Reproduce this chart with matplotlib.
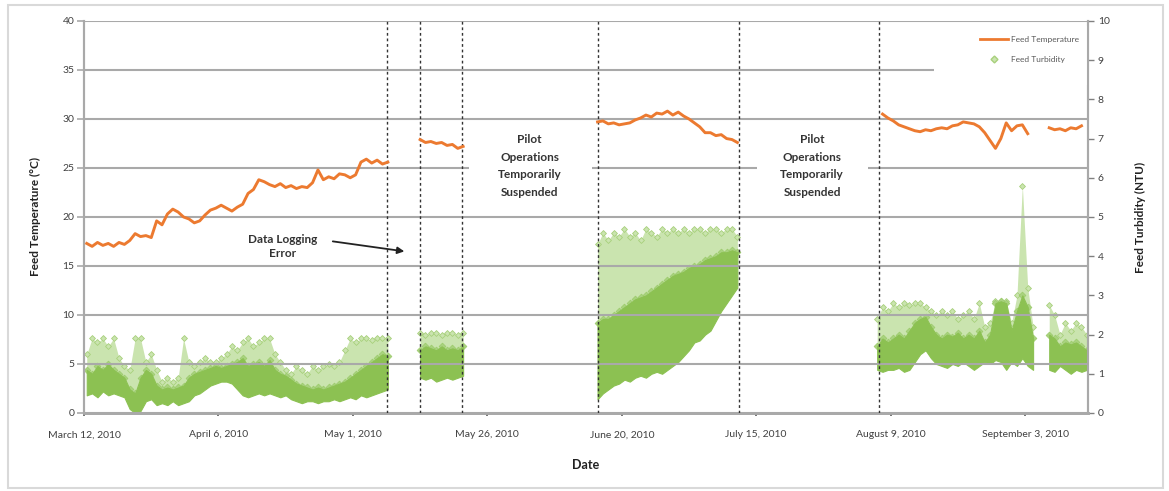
import numpy as np
import pandas as pd
import matplotlib
matplotlib.use('Agg')
import matplotlib.pyplot as plt
import matplotlib.dates as mdates
from matplotlib.lines import Line2D
from matplotlib.patches import Rectangle

plt.rcParams['font.family'] = ['Lato', 'DejaVu Sans']

# feed temperature (deg C), one reading per day, per logging run
temp_starts = ['2010-03-12', '2010-05-13', '2010-06-15', '2010-08-07', '2010-09-07']
temp_runs = [
    [17.3, 17.0, 17.4, 17.1, 17.3, 17.0, 17.4, 17.2, 17.6, 18.3, 18.0, 18.1, 17.9, 19.6,
     19.2, 20.3, 20.8, 20.5, 20.0, 19.8, 19.4, 19.6, 20.2, 20.7, 20.9, 21.2, 20.9, 20.6,
     21.0, 21.3, 22.4, 22.8, 23.8, 23.6, 23.3, 23.1, 23.4, 23.0, 23.2, 22.9, 23.1, 23.0,
     23.5, 24.8, 23.8, 24.1, 23.9, 24.4, 24.3, 24.0, 24.3, 25.6, 25.9, 25.5, 25.8, 25.4, 25.6],
    [27.9, 27.6, 27.7, 27.5, 27.6, 27.3, 27.4, 27.0, 27.2],
    [29.7, 29.8, 29.5, 29.6, 29.4, 29.5, 29.6, 29.9, 30.1, 30.4, 30.2, 30.6, 30.5, 30.8,
     30.4, 30.7, 30.3, 30.0, 29.6, 29.2, 28.6, 28.6, 28.3, 28.4, 28.0, 27.9, 27.6],
    [30.5, 30.1, 29.8, 29.4, 29.2, 29.0, 28.8, 28.7, 28.9, 28.8, 29.0, 29.1, 29.0, 29.3,
     29.4, 29.7, 29.6, 29.5, 29.2, 28.6, 27.8, 27.0, 28.0, 29.6, 28.8, 29.3, 29.4, 28.5],
    [29.1, 28.9, 29.0, 28.8, 29.1, 29.0, 29.3],
]

# feed turbidity (NTU): daily low / high of the bulk of readings, and the highest readings
turb_starts = ['2010-03-12', '2010-05-13', '2010-06-15', '2010-08-06', '2010-09-07']
turb_low = [
    [0.45, 0.5, 0.4, 0.55, 0.45, 0.5, 0.45, 0.4, 0.1, 0.0, 0.05, 0.3, 0.35, 0.2, 0.25, 0.2,
     0.3, 0.2, 0.25, 0.3, 0.45, 0.5, 0.6, 0.7, 0.75, 0.8, 0.8, 0.75, 0.6, 0.45, 0.4, 0.45,
     0.5, 0.45, 0.5, 0.45, 0.4, 0.45, 0.35, 0.3, 0.25, 0.3, 0.3, 0.25, 0.3, 0.3, 0.35, 0.3,
     0.35, 0.4, 0.35, 0.45, 0.4, 0.45, 0.5, 0.55, 0.6],
    [0.9, 0.85, 0.9, 0.8, 0.85, 0.9, 0.85, 0.9, 0.95],
    [0.35, 0.5, 0.6, 0.7, 0.75, 0.85, 0.8, 0.9, 0.95, 0.9, 1.0, 1.05, 1.0, 1.1, 1.2, 1.3,
     1.45, 1.6, 1.8, 1.85, 2.0, 2.1, 2.35, 2.6, 2.8, 3.0, 3.2],
    [1.1, 1.05, 1.1, 1.1, 1.15, 1.05, 1.1, 1.3, 1.5, 1.6, 1.4, 1.25, 1.2, 1.15, 1.25, 1.2,
     1.3, 1.2, 1.1, 1.2, 1.3, 1.25, 1.35, 1.3, 1.1, 1.3, 1.2, 1.4, 1.2, 1.1],
    [1.1, 1.05, 1.2, 1.1, 1.0, 1.1, 1.05, 1.1],
]
turb_high = [
    [1.1, 1.0, 1.2, 1.1, 1.25, 1.1, 1.0, 0.9, 0.6, 0.5, 0.9, 1.1, 1.0, 0.7, 0.6, 0.65, 0.6,
     0.65, 0.7, 0.9, 1.0, 1.05, 1.1, 1.15, 1.2, 1.15, 1.2, 1.25, 1.3, 1.4, 1.2, 1.25, 1.3,
     1.2, 1.35, 1.1, 1.0, 0.95, 0.85, 0.75, 0.7, 0.65, 0.6, 0.65, 0.6, 0.65, 0.7, 0.75, 0.8,
     0.9, 1.0, 1.1, 1.2, 1.3, 1.4, 1.5, 1.45],
    [1.6, 1.7, 1.65, 1.6, 1.7, 1.6, 1.65, 1.6, 1.7],
    [2.3, 2.4, 2.4, 2.5, 2.6, 2.7, 2.8, 2.9, 2.95, 3.0, 3.1, 3.2, 3.3, 3.4, 3.5, 3.55, 3.6,
     3.7, 3.75, 3.8, 3.9, 3.95, 4.0, 4.1, 4.1, 4.15, 4.1],
    [1.7, 1.9, 1.8, 1.9, 2.0, 1.9, 2.1, 2.3, 2.4, 2.45, 2.2, 2.0, 1.9, 2.0, 1.95, 2.05, 1.9,
     2.0, 1.9, 2.1, 1.8, 2.0, 2.8, 2.85, 2.8, 2.1, 2.6, 3.0, 2.7, 1.9],
    [2.0, 1.9, 1.7, 1.8, 1.75, 1.8, 1.7, 1.6],
]
turb_peak = [
    [1.5, 1.9, 1.8, 1.9, 1.7, 1.9, 1.4, 1.2, 1.1, 1.9, 1.9, 1.3, 1.5, 1.1, 0.8, 0.9, 0.8,
     0.9, 1.9, 1.3, 1.2, 1.3, 1.4, 1.3, 1.3, 1.4, 1.5, 1.7, 1.6, 1.8, 1.9, 1.7, 1.8, 1.9,
     1.9, 1.5, 1.3, 1.1, 1.0, 1.2, 1.1, 1.0, 1.2, 1.1, 1.2, 1.25, 1.2, 1.3, 1.6, 1.9, 1.8,
     1.9, 1.9, 1.85, 1.9, 1.9, 1.9],
    [2.05, 2.0, 2.05, 2.05, 2.0, 2.05, 2.05, 2.0, 2.05],
    [4.3, 4.6, 4.4, 4.6, 4.5, 4.7, 4.5, 4.6, 4.4, 4.7, 4.6, 4.5, 4.7, 4.6, 4.7, 4.6, 4.7,
     4.6, 4.7, 4.7, 4.6, 4.7, 4.7, 4.6, 4.7, 4.7, 4.5],
    [2.4, 2.7, 2.6, 2.8, 2.7, 2.8, 2.75, 2.8, 2.8, 2.7, 2.6, 2.5, 2.6, 2.5, 2.6, 2.4, 2.5,
     2.6, 2.4, 2.8, 2.2, 2.3, 2.85, 2.85, 2.85, 2.3, 3.0, 5.8, 3.2, 2.2],
    [2.75, 2.5, 2.0, 2.3, 2.1, 2.3, 2.2, 2.0],
]

# operational breaks marked on the chart
break_dates = ['2010-05-07 10:00', '2010-05-13 12:00', '2010-05-21 07:00',
               '2010-06-15 14:00', '2010-07-11 19:00', '2010-08-06 22:00']
tick_dates = ['2010-03-12', '2010-04-06', '2010-05-01', '2010-05-26',
              '2010-06-20', '2010-07-15', '2010-08-09', '2010-09-03']
tick_labels = ['March 12, 2010', 'April 6, 2010', 'May 1, 2010', 'May 26, 2010',
               'June 20, 2010', 'July 15, 2010', 'August 9, 2010', 'September 3, 2010']

ORANGE = '#EC7A30'
GREEN = '#8CC152'
LIGHT_GREEN = '#CAE4AF'
GRID = '#A9A9A9'
TEXT = '#404040'

fig = plt.figure(figsize=(11.69, 4.91), dpi=100)
fig.patches.append(Rectangle((0.0068, 0.006), 0.988, 0.984, transform=fig.transFigure,
                             fill=False, edgecolor='#D9D9D9', linewidth=1.5))
ax = fig.add_axes([0.0719, 0.1589, 0.8588, 0.7984])
ax2 = ax.twinx()

# turbidity on the secondary axis, drawn underneath
for start, lo, hi, pk in zip(turb_starts, turb_low, turb_high, turb_peak):
    d = pd.date_range(start, periods=len(lo), freq='D') + pd.Timedelta(hours=12)
    ax2.fill_between(d, hi, pk, color=LIGHT_GREEN, linewidth=0, zorder=2)
    ax2.scatter(d, pk, marker='D', s=9, color=LIGHT_GREEN, edgecolors='#A8D07C',
                linewidths=0.6, zorder=2)
    ax2.scatter(d, hi, marker='D', s=12, color='#A9D27F', edgecolors='#9BCB6A',
                linewidths=0.5, zorder=2)
    ax2.fill_between(d, lo, hi, color=GREEN, linewidth=0.8, edgecolor=GREEN, zorder=3)

# feed temperature on the primary axis
ax.set_zorder(ax2.get_zorder() + 1)
ax.patch.set_visible(False)
for start, vals in zip(temp_starts, temp_runs):
    d = pd.date_range(start, periods=len(vals), freq='D') + pd.Timedelta(hours=12)
    ax.plot(d, vals, color=ORANGE, lw=2.1, zorder=5)

x0 = pd.Timestamp('2010-03-12')
x1 = pd.Timestamp('2010-09-14 17:00')
ax.set_xlim(x0, x1)
ax.set_ylim(0, 40)
ax2.set_ylim(0, 10)

for b in break_dates:
    ax.axvline(pd.Timestamp(b), color='#333333', ls=(0, (2, 2)), lw=1.0, zorder=4)

ax.set_yticks(range(0, 41, 5))
ax2.set_yticks(range(0, 11))
ax.set_xticks([pd.Timestamp(t) for t in tick_dates])
ax.set_xticklabels(tick_labels)
ax.grid(axis='y', color=GRID, lw=1.5, zorder=0)
ax.set_axisbelow(True)

ax.tick_params(axis='y', length=5, width=1.2, color=GRID, pad=2, labelsize=7.5, labelcolor=TEXT)
ax.tick_params(axis='x', length=2.5, width=1.2, color='#606060', pad=10, labelsize=7.5,
               labelcolor=TEXT)
ax2.tick_params(axis='y', length=4, width=1.0, color='#808080', pad=3, labelsize=7.5,
                labelcolor=TEXT)

for a in (ax, ax2):
    a.spines['top'].set_visible(False)
    a.spines['left'].set_color(GRID)
    a.spines['left'].set_linewidth(1.5)
    a.spines['right'].set_color(GRID)
    a.spines['right'].set_linewidth(1.5)
    a.spines['bottom'].set_color(GRID)
    a.spines['bottom'].set_linewidth(2.0)

ax.set_ylabel('Feed Temperature (°C)', fontsize=8.5, fontweight='bold', color='#222222')
ax.yaxis.set_label_coords(-0.043, 0.5)
ax2.set_ylabel('Feed Turbidity (NTU)', fontsize=8.5, fontweight='bold', color='#222222',
               rotation=90)
ax2.yaxis.set_label_coords(1.047, 0.5)
ax.set_xlabel('Date', fontsize=9, fontweight='bold', color='#222222')
ax.xaxis.set_label_coords(0.5, -0.118)

# notes about gaps in the record
for start, end, cx in [('2010-05-22 14:00', '2010-06-14 12:00', '2010-06-02 21:00'),
                       ('2010-07-15 05:00', '2010-08-04 20:00', '2010-07-25 10:00')]:
    s, e = mdates.date2num(pd.Timestamp(start)), mdates.date2num(pd.Timestamp(end))
    ax.add_patch(Rectangle((s, 22.5), e - s, 5, facecolor='white', edgecolor='none', zorder=1))
    ax.text(pd.Timestamp(cx), 25.2, 'Pilot\nOperations\nTemporarily\nSuspended',
            ha='center', va='center', fontsize=8.5, fontweight='bold', color='#333333',
            linespacing=1.75, zorder=6)

ax.text(pd.Timestamp('2010-04-18'), 17.0, 'Data Logging\nError', ha='center', va='center',
        fontsize=8.5, fontweight='bold', color='#333333', linespacing=1.4, zorder=6)
ax.annotate('', xy=(pd.Timestamp('2010-05-11 02:00'), 16.45),
            xytext=(pd.Timestamp('2010-04-26 18:00'), 17.55),
            arrowprops=dict(arrowstyle='-|>', color='#222222', lw=1.3, mutation_scale=10),
            zorder=6)

handles = [Line2D([], [], color=ORANGE, lw=2),
           Line2D([], [], color='none', marker='D', markersize=3.5,
                  markerfacecolor=LIGHT_GREEN, markeredgecolor='#A8D07C')]
leg = ax.legend(handles, ['Feed Temperature', 'Feed Turbidity'], loc='upper right',
                bbox_to_anchor=(1.0, 0.985), fontsize=6, frameon=True, handlelength=3.4,
                handletextpad=0.3, labelspacing=1.6, borderpad=0.8, borderaxespad=0.3)
leg.get_frame().set_facecolor('white')
leg.get_frame().set_edgecolor('none')
leg.get_frame().set_alpha(1)
leg.set_zorder(7)
for t in leg.get_texts():
    t.set_color('#595959')
# the legend panel blanks the gridline behind it out to the left
ax.add_patch(Rectangle((mdates.date2num(pd.Timestamp('2010-08-17')), 33.5),
                       mdates.date2num(x1) - mdates.date2num(pd.Timestamp('2010-08-17')), 6,
                       facecolor='white', edgecolor='none', zorder=1))

fig.savefig('out.png', dpi=100)
